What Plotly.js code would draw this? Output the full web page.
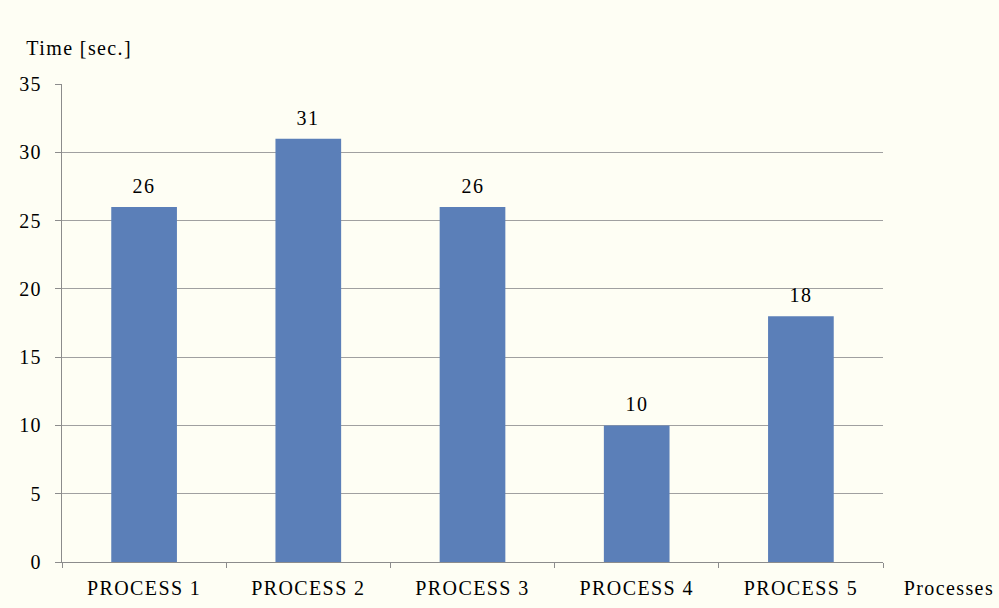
<!DOCTYPE html>
<html>
<head>
<meta charset="utf-8">
<script src="https://cdn.plot.ly/plotly-3.0.1.min.js"></script>
<style>
html,body{margin:0;padding:0;background:#fefef4;}
#chart svg text{letter-spacing:1.4px;}
</style>
</head>
<body>
<div id="chart" style="width:999px;height:608px;"></div>
<script>
const categories = ["PROCESS 1", "PROCESS 2", "PROCESS 3", "PROCESS 4", "PROCESS 5"];
const times = [26, 31, 26, 10, 18];
const yTicks = [0, 5, 10, 15, 20, 25, 30, 35];

const font = {family: "'Liberation Serif', 'DejaVu Serif', 'Times New Roman', Times, serif", size: 20, color: "#000"};

const labels = categories.map((c, i) => ({
  x: c, y: times[i], xref: "x", yref: "y",
  text: String(times[i]), showarrow: false,
  yanchor: "bottom", yshift: 8, font: font
}));

Plotly.newPlot("chart", [{
  type: "bar",
  x: categories,
  y: times,
  marker: {color: "#5b7fb8"},
  hoverinfo: "x+y"
}], {
  width: 999, height: 608,
  margin: {l: 62, r: 116, t: 84, b: 46},
  paper_bgcolor: "#fefef4",
  plot_bgcolor: "#fefef4",
  font: font,
  bargap: 0.6,
  showlegend: false,
  xaxis: {
    type: "category",
    showline: true, linecolor: "#8c8c8c", linewidth: 1,
    ticks: "outside", tickson: "boundaries", ticklen: 5, tickcolor: "#8c8c8c",
    showgrid: false,
    tickfont: font,
    ticklabelstandoff: 8
  },
  yaxis: {
    range: [0, 35],
    tickvals: yTicks,
    showline: true, linecolor: "#8c8c8c", linewidth: 1,
    ticks: "outside", ticklen: 6, tickcolor: "#8c8c8c",
    showgrid: true, gridcolor: "#a0a0a0", gridwidth: 1,
    zeroline: false,
    tickfont: font,
    ticklabelstandoff: 9
  },
  annotations: labels.concat([
    {text: "Time [sec.]", xref: "paper", yref: "paper", x: -0.037, y: 1.075, xanchor: "left", yanchor: "middle", showarrow: false, font: font},
    {text: "Processes", xref: "paper", yref: "paper", x: 1.031, y: -0.055, xanchor: "left", yanchor: "middle", showarrow: false, font: font}
  ])
}, {displayModeBar: false});
</script>
</body>
</html>
